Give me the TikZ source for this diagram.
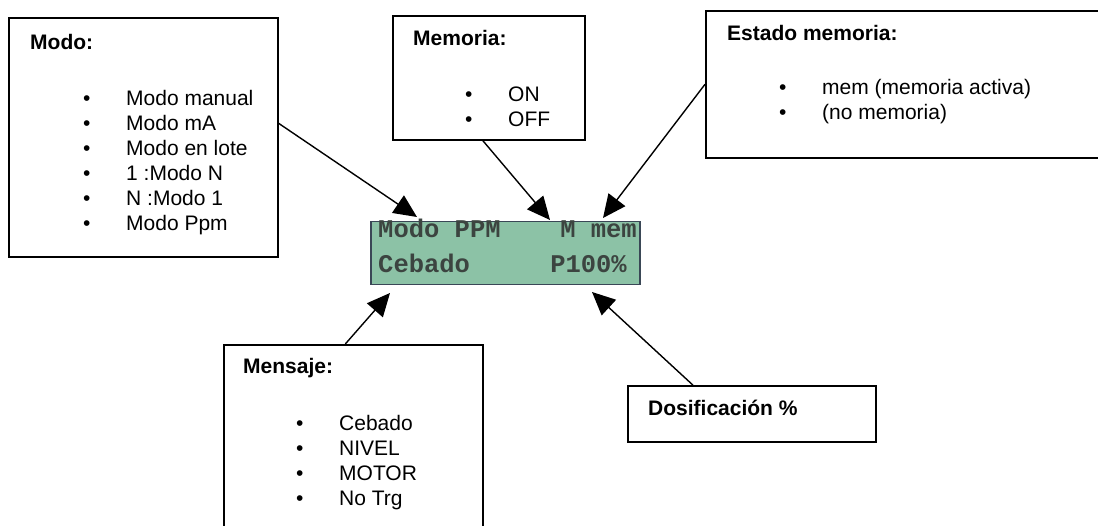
\documentclass[tikz,border=0pt]{standalone}
\usepackage{fontspec}
\setmainfont{Liberation Sans}
\newfontfamily\lcdfont{Liberation Mono}
\usepackage{tikz}
\usetikzlibrary{arrows.meta}
\definecolor{lcdgreen}{RGB}{140,194,166}
\definecolor{lcdframe}{RGB}{58,71,86}
\definecolor{lcdtext}{RGB}{60,68,64}
\newcommand{\itm}[1]{\makebox[43pt][l]{\textbullet}#1}

\begin{document}
\begin{tikzpicture}[x=1pt, y=-1pt,
  box/.style    = {draw, line width=1.6pt, inner sep=0pt, anchor=north west},
  head/.style   = {anchor=base west, inner sep=0pt,
                   font=\fontsize{21}{25}\selectfont\bfseries},
  items/.style  = {anchor=base west, inner sep=0pt,
                   font=\fontsize{21}{25}\selectfont},
  lcdtxt/.style = {inner sep=0pt, text=lcdtext,
                   font=\fontsize{25.5}{28}\selectfont\lcdfont\bfseries},
  arr/.style    = {-{Triangle[length=23pt, width=21pt]}, line width=1.4pt}
]
  \useasboundingbox (0,0) rectangle (1098,526);

  \node[box, minimum width=269pt, minimum height=239pt] (modo)  at (8,17)  {};
  \node[box, minimum width=192pt, minimum height=124pt] (mem)   at (392,15) {};
  \node[box, minimum width=395pt, minimum height=147pt] (est)   at (705,10) {};
  \node[box, minimum width=259pt, minimum height=186pt] (msj)   at (223,344) {};
  \node[box, minimum width=248pt, minimum height=56pt]  (dosif) at (627,385) {};
  \node[box, draw=lcdframe, fill=lcdgreen, line width=1.5pt,
        minimum width=269pt, minimum height=63pt] (lcd) at (370,221) {};

  \node[head] (modoH) at (30,50) {Modo:};
  \node[items] (modoL) at (83,105.5)
      {\begin{tabular}[t]{@{}l@{}}
       \itm{Modo manual}\\ \itm{Modo mA}\\ \itm{Modo en lote}\\
       \itm{1 :Modo N}\\ \itm{N :Modo 1}\\ \itm{Modo Ppm}
       \end{tabular}};

  \node[head] (memH) at (413,46) {Memoria:};
  \node[items] (memL) at (465,102)
      {\begin{tabular}[t]{@{}l@{}}
       \itm{ON}\\ \itm{OFF}
       \end{tabular}};

  \node[head] (estH) at (727,41) {Estado memoria:};
  \node[items] (estL) at (779,95)
      {\begin{tabular}[t]{@{}l@{}}
       \itm{mem (memoria activa)}\\ \itm{(no memoria)}
       \end{tabular}};

  \node[head] (msjH) at (243,374) {Mensaje:};
  \node[items] (msjL) at (296,430.5)
      {\begin{tabular}[t]{@{}l@{}}
       \itm{Cebado}\\ \itm{NIVEL}\\ \itm{MOTOR}\\ \itm{No Trg}
       \end{tabular}};

  \node[head] (dosifH) at (648,415.5) {Dosificación \%};

  \node[lcdtxt, anchor=base west] (lcdA) at (378,238) {Modo PPM};
  \node[lcdtxt, anchor=base east] (lcdB) at (637,238) {M mem};
  \node[lcdtxt, anchor=base west] (lcdC) at (378,273) {Cebado};
  \node[lcdtxt, anchor=base east] (lcdD) at (627,273) {P100\%};

  \coordinate (tipModo)  at (417,217);
  \coordinate (tipMem)   at (550,220);
  \coordinate (tipEst)   at (603,218);
  \coordinate (tipMsj)   at (390,293);
  \coordinate (tipDosif) at (592,292);

  \draw[arr] ([yshift=14pt]modo.east)      -- (tipModo);
  \draw[arr] ([xshift=-6pt]mem.south)      -- (tipMem);
  \draw[arr] (est.west)                    -- (tipEst);
  \draw[arr] ([xshift=-8pt]msj.north)      -- (tipMsj);
  \draw[arr] ([xshift=-59pt]dosif.north)   -- (tipDosif);
\end{tikzpicture}
\end{document}
